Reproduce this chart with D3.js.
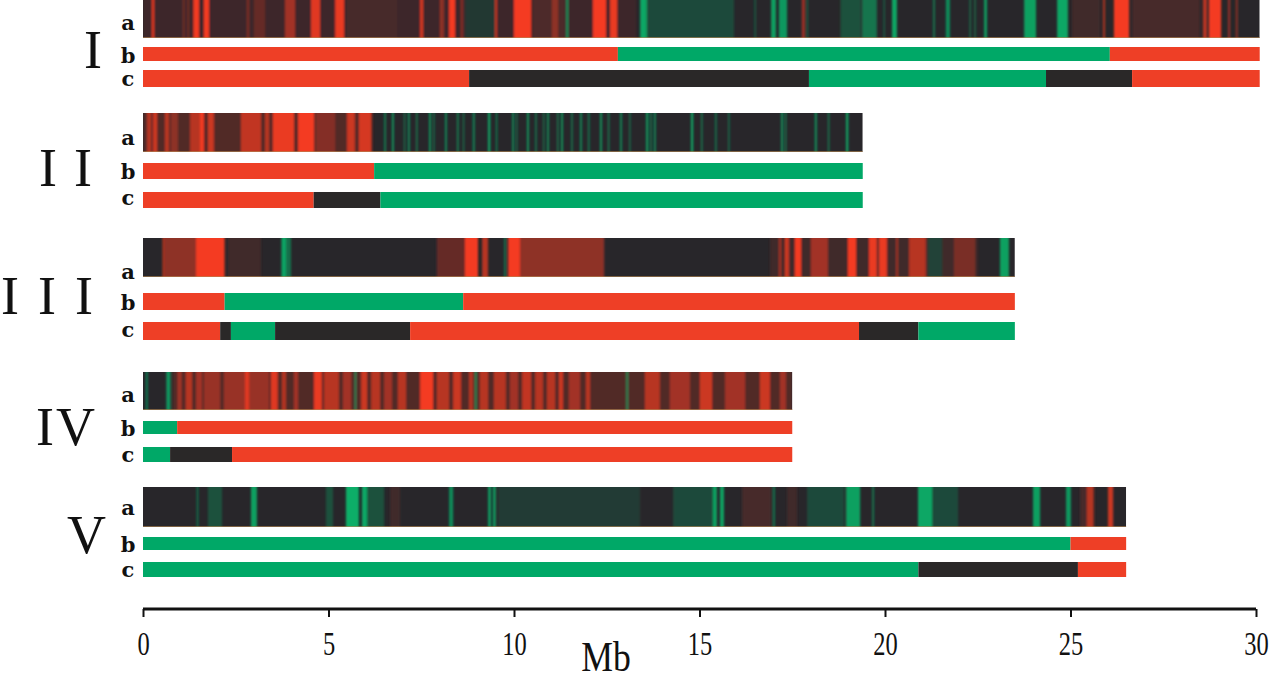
<!DOCTYPE html>
<html>
<head>
<meta charset="utf-8">
<script src="https://cdn.jsdelivr.net/npm/d3@7"></script>
<style>
  html, body { margin: 0; padding: 0; background: #ffffff; }
  svg { display: block; }
</style>
</head>
<body>
<svg id="chart" width="1280" height="683"></svg>
<script>
// ---------------- DATA ----------------
const chromosomes = ["I", "II", "III", "IV", "V"];
const lengths = [30.1, 19.4, 23.5, 17.5, 26.5];           // Mb
const rowLabels = ["a", "b", "c"];
const tickValues = [0, 5, 10, 15, 20, 25, 30];
const axisLabel = "Mb";

// rows b and c: [start Mb, end Mb, state]  R = red, G = green, K = black
const segB = [
  [[0, 12.8, "R"], [12.8, 26.06, "G"], [26.06, 30.1, "R"]],
  [[0, 6.23, "R"], [6.23, 19.4, "G"]],
  [[0, 2.2, "R"], [2.2, 8.63, "G"], [8.63, 23.5, "R"]],
  [[0, 0.92, "G"], [0.92, 17.5, "R"]],
  [[0, 25.0, "G"], [25.0, 26.5, "R"]]
];
const segC = [
  [[0, 8.79, "R"], [8.79, 17.95, "K"], [17.95, 24.34, "G"], [24.34, 26.66, "K"], [26.66, 30.1, "R"]],
  [[0, 4.6, "R"], [4.6, 6.4, "K"], [6.4, 19.4, "G"]],
  [[0, 2.08, "R"], [2.08, 2.37, "K"], [2.37, 3.56, "G"], [3.56, 7.2, "K"], [7.2, 19.3, "R"], [19.3, 20.9, "K"], [20.9, 23.5, "G"]],
  [[0, 0.73, "G"], [0.73, 2.4, "K"], [2.4, 17.5, "R"]],
  [[0, 20.9, "G"], [20.9, 25.2, "K"], [25.2, 26.5, "R"]]
];

// row a: expression stripes [start Mb, end Mb, value]  (+ red, - green, 0 black)
const stripesI = [
  [0, 13.3, 0.1], [1.08, 1.12, 0.4], [1.20, 1.24, 0.4], [0.24, 0.30, 0.9], [1.36, 1.51, 1], [1.64, 1.78, 1],
  [2.80, 2.86, 0.4], [2.99, 3.29, 0.3], [3.83, 4.10, 0.6], [4.53, 4.77, 0.9], [5.18, 5.42, 0.95],
  [5.50, 6.85, 0.15], [7.47, 7.55, 0.85], [8.00, 8.11, 0.5], [8.25, 8.41, 1], [8.57, 8.62, 0.5],
  [8.68, 9.54, -0.12], [9.49, 9.54, 0.8], [10.0, 10.46, 1], [10.51, 11.37, 0.18], [11.02, 11.19, 0.5],
  [11.41, 11.46, -0.8], [12.13, 12.48, 1], [12.59, 12.78, 0.95], [13.40, 13.58, -0.9], [13.58, 15.93, -0.25],
  [16.48, 16.52, -0.4], [16.93, 17.06, -0.85], [17.14, 17.36, -0.8], [17.76, 17.84, 0.6], [17.89, 17.92, -0.5],
  [18.80, 19.35, -0.3], [19.38, 19.78, -0.55], [19.96, 20.0, -0.4], [20.19, 20.32, -0.9], [21.30, 21.34, -0.7],
  [21.64, 21.75, -0.7], [22.28, 22.31, -0.6], [22.41, 22.44, -0.6], [22.67, 22.75, -0.8], [23.75, 24.07, -0.85],
  [24.64, 24.93, -0.9], [25.04, 25.80, 0.12], [25.88, 25.93, 0.7], [26.17, 26.58, 1], [26.66, 28.49, 0.15],
  [28.57, 28.68, 0.7], [28.73, 29.06, 1], [29.25, 29.30, 0.6], [29.46, 29.50, 0.6]
];
const stripesII = [
  [0, 6.2, 0.2], [0.11, 0.22, 0.7], [0.27, 0.38, 0.8], [0.59, 0.70, 0.7], [0.75, 0.94, 0.5], [1.27, 1.64, 0.7],
  [1.54, 1.64, 1], [1.75, 1.91, 0.8], [2.64, 3.18, 0.75], [3.29, 3.40, 0.7], [3.50, 4.07, 0.95],
  [4.18, 4.61, 1], [4.66, 5.18, 0.45], [5.50, 5.71, 0.8], [5.82, 6.15, 0.85],
  [6.50, 6.55, -0.6], [6.71, 6.76, -0.8], [7.03, 7.07, -0.5], [7.14, 7.19, -0.7], [7.36, 7.40, -0.6],
  [7.71, 7.76, -0.8], [7.82, 7.86, -0.5], [8.14, 8.19, -0.7], [8.46, 8.51, -0.6], [8.62, 8.66, -0.5],
  [8.89, 8.94, -0.7], [9.30, 9.36, -0.9], [9.51, 9.55, -0.6], [9.95, 10.0, -0.7], [10.05, 10.09, -0.5],
  [10.35, 10.40, -0.8], [10.57, 10.61, -0.6], [10.78, 10.82, -0.5], [10.89, 10.94, -0.7], [11.16, 11.20, -0.6],
  [11.27, 11.32, -0.8], [11.54, 11.58, -0.6], [11.78, 11.83, -0.7], [11.99, 12.04, -0.5], [12.32, 12.37, -0.8],
  [12.53, 12.57, -0.6], [12.86, 12.91, -0.7], [13.10, 13.14, -0.5], [13.56, 13.62, -0.8], [13.67, 13.71, -0.6],
  [13.77, 13.82, -0.7], [14.77, 14.83, -0.9], [15.04, 15.08, -0.6], [15.42, 15.46, -0.6], [15.77, 15.81, -0.5],
  [17.20, 17.25, -0.8], [17.30, 17.34, -0.6], [18.11, 18.16, -0.8], [18.46, 18.50, -0.6], [18.95, 19.01, -0.9]
];
const stripesIII = [
  [0.53, 0.58, 0.8], [0.59, 1.43, 0.5], [1.43, 2.20, 1], [2.29, 3.18, 0.12], [3.72, 3.99, -0.5],
  [3.75, 3.85, -0.9], [7.92, 8.68, 0.3], [8.68, 9.03, 1], [9.14, 9.30, 0.7], [9.74, 9.78, -0.7],
  [9.84, 10.16, 1], [10.16, 12.43, 0.5], [16.9, 22.5, 0.12], [17.14, 17.20, 0.6], [17.30, 17.41, 0.8], [17.57, 17.74, 1],
  [18.00, 18.46, 0.6], [19.00, 19.22, 1], [19.57, 19.78, 0.95], [19.84, 20.05, 0.95], [20.30, 20.35, 0.6],
  [20.65, 21.10, 0.7], [21.16, 21.54, -0.2], [21.86, 22.43, 0.4], [23.10, 23.34, -0.85]
];
const stripesIV = [
  [0.8, 17.5, 0.2], [0.08, 0.12, -0.8], [0.63, 0.74, -0.8], [0.93, 1.04, 0.6], [1.15, 1.32, 0.7], [1.43, 1.59, 0.6],
  [1.64, 2.08, 0.55], [2.18, 3.40, 0.55], [2.75, 2.86, 0.9], [3.45, 3.63, 0.9], [3.75, 3.85, 0.7],
  [4.07, 4.18, 0.6], [4.61, 4.82, 0.95], [4.88, 5.28, 0.7], [5.39, 5.61, 0.6], [5.71, 5.74, -0.8],
  [5.88, 6.04, 0.8], [6.15, 6.39, 0.7], [6.50, 6.71, 0.6], [6.87, 7.09, 0.7], [7.47, 7.82, 1],
  [7.92, 8.25, 0.7], [8.36, 8.57, 0.8], [8.79, 8.89, 0.7], [8.95, 8.99, -0.8], [9.08, 9.30, 0.7],
  [9.46, 9.78, 0.7], [9.89, 10.11, 0.6], [10.22, 10.46, 0.75], [10.57, 10.78, 0.7], [10.89, 11.11, 0.7],
  [11.21, 11.32, 0.8], [11.48, 11.78, 0.6], [11.94, 12.05, 0.7], [13.03, 13.07, -0.8], [13.53, 13.93, 0.7],
  [14.20, 14.74, 0.6], [15.01, 15.34, 0.8], [15.69, 16.23, 0.6], [16.63, 16.90, 0.8], [17.17, 17.33, 0.6]
];
const stripesV = [
  [1.45, 1.49, -0.6], [1.75, 2.13, -0.3], [2.91, 3.07, -0.85], [4.93, 5.12, -0.3], [5.47, 5.82, -0.95],
  [5.90, 6.04, -0.9], [6.04, 6.50, -0.3], [6.66, 6.93, 0.12], [8.25, 8.36, -0.7], [9.30, 9.38, -0.8],
  [9.43, 9.51, -0.8], [9.57, 13.40, -0.15], [14.29, 15.36, -0.25], [15.36, 15.47, -0.85], [15.55, 15.66, -0.85],
  [16.15, 16.93, 0.15], [16.98, 17.03, -0.6], [17.36, 17.63, 0.12], [17.90, 18.90, -0.25], [18.95, 19.33, -0.85],
  [19.66, 19.70, -0.7], [20.89, 21.27, -0.9], [21.27, 21.97, -0.25], [23.99, 24.18, -0.85], [24.88, 25.01, -0.8],
  [25.26, 25.66, 0.15], [25.44, 25.61, 0.7], [26.01, 26.15, 0.8]
];
const stripes = [stripesI, stripesII, stripesIII, stripesIV, stripesV];

// ---------------- LAYOUT ----------------
const W = 1280, H = 683;
// per chromosome: [top, height] for rows a, b, c
const rowGeom = [
  [[0, 38], [47, 14], [70, 17]],
  [[113, 39], [163, 16], [192, 16]],
  [[238, 39], [293, 17], [322, 18]],
  [[372, 38], [421, 13], [447, 15]],
  [[487, 40], [537, 13], [562, 15]]
];
// y centre of the a/b/c letters
const rowLabelY = [
  [22, 55, 78],
  [137, 171, 197],
  [271, 302, 329],
  [394, 428, 454],
  [507, 544, 569]
];
const numeralLeft = [84, 39, 1, 36, 67];
const numeralSpacing = [0, 17, 19, 2, 0];
const numeralY = [50, 168, 296, 427, 535];

const stateColor = { R: "#ee3f26", G: "#00a867", K: "#2a2828" };
const heat = d3.scaleLinear().domain([-1, 0, 1])
  .range(["#05b56b", "#28262a", "#f43b22"]).clamp(true);

const x = d3.scaleLinear().domain([0, 30]).range([143, 1256]);

const svg = d3.select("#chart");
svg.append("rect").attr("width", W).attr("height", H).attr("fill", "#ffffff");

const defs = svg.append("defs");
defs.append("filter").attr("id", "soft")
  .attr("x", "-2%").attr("y", "0").attr("width", "104%").attr("height", "100%")
  .append("feGaussianBlur").attr("stdDeviation", "1.1 0");

chromosomes.forEach((chr, i) => {
  const g = svg.append("g").attr("class", "chr");
  const L = lengths[i];
  const [ra, rb, rc] = rowGeom[i];

  // row a background + stripes (soft edged, clipped to the row)
  defs.append("clipPath").attr("id", "clipA" + i)
    .append("rect")
    .attr("x", x(0)).attr("y", ra[0])
    .attr("width", x(L) - x(0)).attr("height", ra[1]);
  const ga = g.append("g").attr("clip-path", `url(#clipA${i})`);
  ga.append("rect")
    .attr("x", x(0)).attr("y", ra[0])
    .attr("width", x(L) - x(0)).attr("height", ra[1])
    .attr("fill", heat(0));
  const gs = ga.append("g").attr("filter", "url(#soft)");
  const sorted = stripes[i].slice().sort((p, q) => Math.abs(p[2]) - Math.abs(q[2]));
  gs.selectAll("rect.stripe").data(sorted).join("rect")
    .attr("class", "stripe")
    .attr("x", d => x(d[0]))
    .attr("y", ra[0])
    .attr("width", d => Math.max(1.2, x(d[1]) - x(d[0])))
    .attr("height", ra[1])
    .attr("fill", d => heat(d[2]));
  g.append("line")
    .attr("x1", x(0)).attr("x2", x(L))
    .attr("y1", ra[0] + ra[1] - 0.5).attr("y2", ra[0] + ra[1] - 0.5)
    .attr("stroke", "#b88a55").attr("stroke-width", 1).attr("opacity", 0.6);

  // rows b, c
  [[segB[i], rb], [segC[i], rc]].forEach(([segs, geom]) => {
    g.selectAll(null).data(segs).join("rect")
      .attr("x", d => x(d[0]))
      .attr("y", geom[0])
      .attr("width", d => x(d[1]) - x(d[0]))
      .attr("height", geom[1])
      .attr("fill", d => stateColor[d[2]]);
  });

  // a b c letters
  rowLabels.forEach((lab, k) => {
    g.append("text")
      .attr("x", 128).attr("y", rowLabelY[i][k])
      .attr("text-anchor", "middle")
      .attr("dominant-baseline", "central")
      .attr("font-family", "'DejaVu Serif', serif")
      .attr("font-weight", "bold")
      .attr("font-size", 21)
      .attr("fill", "#111")
      .text(lab);
  });

  // roman numeral
  g.append("text")
    .attr("x", numeralLeft[i]).attr("y", numeralY[i])
    .attr("text-anchor", "start")
    .attr("dominant-baseline", "central")
    .attr("letter-spacing", numeralSpacing[i])
    .attr("font-family", "'Liberation Serif', 'Times New Roman', serif")
    .attr("font-size", 54)
    .attr("fill", "#111")
    .text(chr);
});

// axis
const axisY = 609;
const axis = d3.axisBottom(x).tickValues(tickValues).tickSize(8).tickFormat(d3.format("d"));
const ag = svg.append("g").attr("transform", `translate(0,${axisY})`).call(axis);
ag.select(".domain").attr("stroke", "#111").attr("stroke-width", 3).attr("d", `M${x(0)},0H${x(30)}`);
ag.selectAll(".tick line").attr("stroke", "#111").attr("stroke-width", 2);
ag.selectAll(".tick text")
  .attr("x", 0)
  .attr("y", 0)
  .attr("dy", 0)
  .attr("transform", "translate(0,46) scale(0.72,1)")
  .attr("font-family", "'Liberation Serif', 'Times New Roman', serif")
  .attr("font-size", 34)
  .attr("fill", "#111");

svg.append("text")
  .attr("transform", `translate(606,671) scale(0.85,1)`)
  .attr("text-anchor", "middle")
  .attr("font-family", "'Liberation Serif', 'Times New Roman', serif")
  .attr("font-size", 42)
  .attr("fill", "#111")
  .text(axisLabel);
</script>
</body>
</html>
